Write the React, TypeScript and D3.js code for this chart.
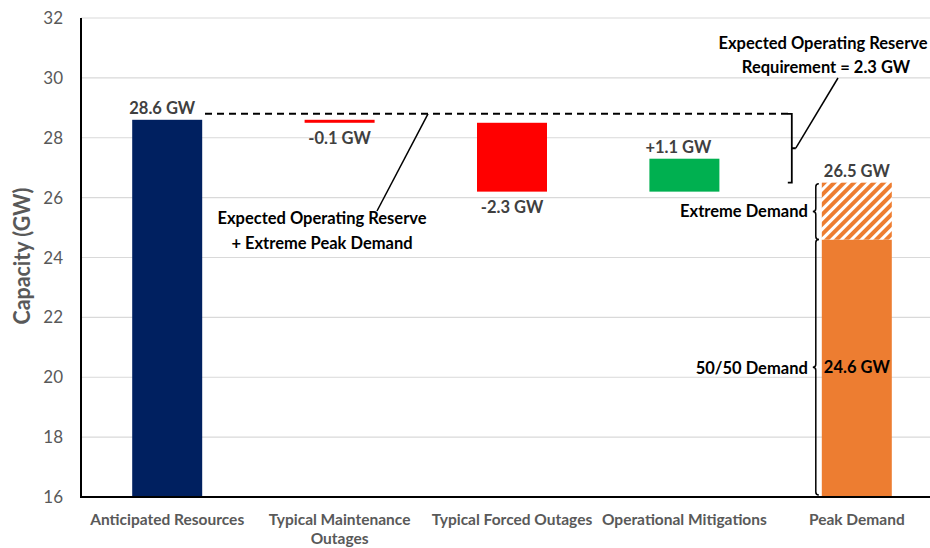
import React from "react";
import * as d3 from "d3";

const categories = ["Anticipated Resources", "Typical Maintenance Outages", "Typical Forced Outages", "Operational Mitigations", "Peak Demand"];
const categoryLines = [["Anticipated Resources"], ["Typical Maintenance", "Outages"], ["Typical Forced Outages"], ["Operational Mitigations"], ["Peak Demand"]];
const barStart = [16, 28.6, 28.5, 26.2, 16];
const barEnd = [28.6, 28.5, 26.2, 27.3, 24.6];
const barColors = ["#002060", "#FF0000", "#FF0000", "#00B050", "#ED7D31"];
const barLabels = ["28.6 GW", "-0.1 GW", "-2.3 GW", "+1.1 GW", "26.5 GW"];
const labelAbove = [true, false, false, true, true];
const extremeDemand = [24.6, 26.5];
const fiftyFiftyLabel = "24.6 GW";
const reserveLevel = 28.8;
const yTicks = [16, 18, 20, 22, 24, 26, 28, 30, 32];

const W = 930, H = 548;
const FONT = "Lato, 'Open Sans', sans-serif";
const GRAY = "#595959";

export default function App() {
  const x = d3.scaleBand<string>().domain(categories).range([81, 943]).paddingInner(0.594).paddingOuter(0.297);
  const y = d3.scaleLinear().domain([16, 32]).range([497, 18]);
  const bw = x.bandwidth();
  const cx = (i: number) => (x(categories[i]) as number) + bw / 2;

  const peakLeft = x(categories[4]) as number;
  const brX = peakLeft - 30; // requirement bracket
  const yTop = y(reserveLevel);
  const yBot = y(extremeDemand[1]);
  const yMid = y((reserveLevel + extremeDemand[1]) / 2);

  const brace = (bx: number, top: number, bot: number) => {
    const mid = (top + bot) / 2;
    return `M ${bx + 3} ${top} Q ${bx} ${top} ${bx} ${top + 3} L ${bx} ${mid - 3} Q ${bx} ${mid} ${bx - 3} ${mid} Q ${bx} ${mid} ${bx} ${mid + 3} L ${bx} ${bot - 3} Q ${bx} ${bot} ${bx + 3} ${bot}`;
  };
  const braceX = peakLeft - 6;
  const topOf = (i: number) => (i === 4 ? extremeDemand[1] : Math.max(barStart[i], barEnd[i]));

  return (
    <svg width={W} height={H} style={{ position: "absolute", left: 0, top: 0, background: "#fff" }} fontFamily={FONT}>
      <defs>
        <pattern id="hatch" patternUnits="userSpaceOnUse" width={7} height={7} patternTransform="rotate(45)">
          <rect width={7} height={7} fill="#ED7D31" />
          <rect width={3} height={7} fill="#ffffff" />
        </pattern>
      </defs>
      {/* gridlines */}
      {yTicks.map((t) => (
        <line key={t} x1={81} x2={W} y1={y(t)} y2={y(t)} stroke="#d9d9d9" strokeWidth={1.2} />
      ))}
      {/* tick labels */}
      {yTicks.map((t) => (
        <text key={"l" + t} x={63} y={y(t) + 6} textAnchor="end" fontSize={17} fill={GRAY}>{t}</text>
      ))}
      <text transform={`translate(24,256) rotate(-90)`} textAnchor="middle" fontSize={22} fontWeight="bold" fill={GRAY} dominantBaseline="middle" textLength={137} lengthAdjust="spacingAndGlyphs">Capacity (GW)</text>

      {/* bars */}
      {categories.map((c, i) => (
        <rect key={c} x={x(c)} width={bw} y={y(Math.max(barStart[i], barEnd[i]))} height={Math.abs(y(barStart[i]) - y(barEnd[i]))} fill={barColors[i]} />
      ))}
      <rect x={peakLeft} width={bw} y={y(extremeDemand[1])} height={y(extremeDemand[0]) - y(extremeDemand[1])} fill="url(#hatch)" />

      {/* bar labels */}
      {categories.map((c, i) => {
        const top = y(topOf(i));
        const bot = y(Math.min(barStart[i], barEnd[i]));
        return (
          <text key={"bl" + c} x={cx(i) - (i === 0 ? 5 : i === 3 ? 6 : 0)} y={labelAbove[i] ? top - 6 : bot + 21} textAnchor="middle" fontSize={16.5} fontWeight="bold" fill="#404040">{barLabels[i]}</text>
        );
      })}
      <text x={cx(4)} y={y((16 + extremeDemand[0]) / 2) + 5} textAnchor="middle" fontSize={16.5} fontWeight="bold" fill="#000">{fiftyFiftyLabel}</text>

      {/* axes */}
      <line x1={81} x2={81} y1={y(32)} y2={y(16) + 1} stroke="#000" strokeWidth={2} />
      <line x1={80} x2={W} y1={y(16)} y2={y(16)} stroke="#000" strokeWidth={2} />

      {/* category labels */}
      {categoryLines.map((lines, i) => (
        <text key={"c" + i} x={cx(i)} textAnchor="middle" fontSize={15.5} fontWeight="bold" fill={GRAY}>
          {lines.map((l, j) => (
            <tspan key={j} x={cx(i)} y={525 + j * 18.5}>{l}</tspan>
          ))}
        </text>
      ))}

      {/* dashed reserve line */}
      <line x1={205} x2={brX} y1={yTop} y2={yTop} stroke="#000" strokeWidth={2} strokeDasharray="7,5" />
      {/* requirement bracket */}
      <path d={`M ${brX - 4} ${yTop} L ${brX} ${yTop} L ${brX} ${yBot} L ${brX - 4} ${yBot} M ${brX} ${yMid} L ${brX + 4} ${yMid}`} fill="none" stroke="#000" strokeWidth={1.8} />
      <line x1={brX + 4} y1={yMid} x2={838} y2={78} stroke="#000" strokeWidth={1.5} />
      <text x={823} y={49} textAnchor="middle" fontSize={16.5} fontWeight="bold" fill="#000">Expected Operating Reserve</text>
      <text x={826} y={73} textAnchor="middle" fontSize={16.5} fontWeight="bold" fill="#000">Requirement = 2.3 GW</text>

      {/* left annotation */}
      <line x1={377} y1={211} x2={428} y2={yTop} stroke="#000" strokeWidth={1.5} />
      <text x={322} y={224} textAnchor="middle" fontSize={16.5} fontWeight="bold" fill="#000">Expected Operating Reserve</text>
      <text x={322} y={249} textAnchor="middle" fontSize={16.5} fontWeight="bold" fill="#000">+ Extreme Peak Demand</text>

      {/* demand braces */}
      <path d={brace(braceX, y(extremeDemand[1]) + 1, y(extremeDemand[0]))} fill="none" stroke="#000" strokeWidth={1.5} />
      <path d={brace(braceX, y(extremeDemand[0]), y(16) - 2)} fill="none" stroke="#000" strokeWidth={1.5} />
      <text x={braceX - 8} y={(y(extremeDemand[1]) + y(extremeDemand[0])) / 2 + 6} textAnchor="end" fontSize={16.5} fontWeight="bold" fill="#000">Extreme Demand</text>
      <text x={braceX - 8} y={(y(extremeDemand[0]) + y(16)) / 2 + 6} textAnchor="end" fontSize={16.5} fontWeight="bold" fill="#000">50/50 Demand</text>
    </svg>
  );
}
